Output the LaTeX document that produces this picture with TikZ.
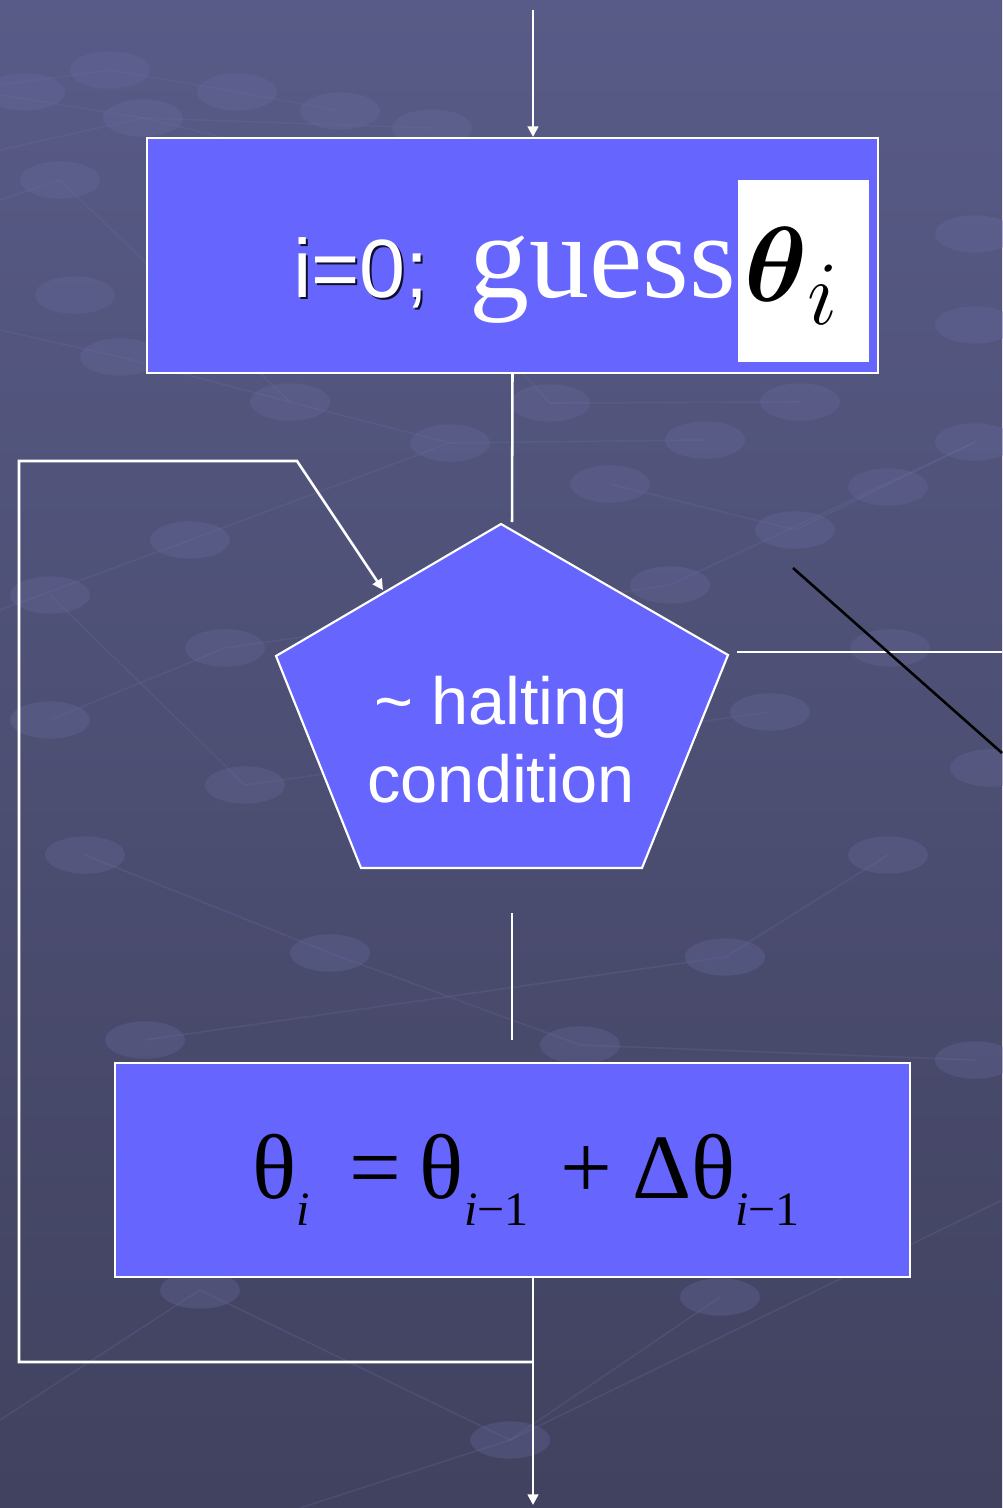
\RequirePackage{fix-cm}
\documentclass[tikz,border=0pt]{standalone}
\usepackage{amsmath}
\usepackage{fontspec}
\setmainfont{Liberation Serif}
\newfontfamily\arialfont{Liberation Sans}
\usetikzlibrary{arrows.meta,calc}

\definecolor{slidetop}{HTML}{585B87}
\definecolor{slidebot}{HTML}{41425F}
\definecolor{boxblue}{HTML}{6666FF}
\definecolor{dotblue}{HTML}{6A6DA0}
\definecolor{shadowblue}{HTML}{0E0E30}

\newcommand{\lowsub}[1]{\raisebox{-0.3em}{\fontsize{36}{36}\selectfont #1}}

\begin{document}
\begin{tikzpicture}[x=0.75pt,y=-0.75pt,
  flow/.style={draw=white,line width=1.9pt},
  arr/.style={flow,-{Triangle[width=8pt,length=8pt]}},
  stepbox/.style={draw=white,line width=1.6pt,fill=boxblue,inner sep=0pt},
  bgdot/.style={fill=dotblue,opacity=0.3},
  bgline/.style={draw=dotblue,opacity=0.25,line width=1.2pt}]
  % background
  \shade[top color=slidetop,bottom color=slidebot] (0,0) rectangle (1002,1508);
  \useasboundingbox (0,0) rectangle (1002,1508);
  \draw[bgline] (0,85) -- (110,70) -- (237,92) -- (340,111);
  \draw[bgline] (0,150) -- (143,118) -- (432,128);
  \draw[bgline] (0,95) -- (143,118) -- (330,163) -- (550,403) -- (800,402);
  \draw[bgline] (0,200) -- (60,180) -- (290,402) -- (450,443) -- (705,440);
  \draw[bgline] (0,330) -- (120,357) -- (290,402);
  \draw[bgline] (610,484) -- (795,530) -- (975,442);
  \draw[bgline] (0,610) -- (190,540) -- (450,443);
  \draw[bgline] (50,720) -- (225,648) -- (670,585) -- (975,442);
  \draw[bgline] (50,595) -- (245,785) -- (770,712);
  \draw[bgline] (85,855) -- (330,953) -- (580,1045) -- (975,1060);
  \draw[bgline] (888,855) -- (725,957) -- (145,1040);
  \draw[bgline] (0,1420) -- (200,1290) -- (510,1440) -- (1002,1200);
  \draw[bgline] (720,1297) -- (510,1440) -- (300,1508);
  \foreach \px/\py in {110/70,237/92,340/111,432/128,25/92,143/118,60/180,
      330/163,120/357,75/295,290/402,550/403,450/443,705/440,800/402,
      975/234,975/325,975/442,888/487,610/484,795/530,670/585,190/540,
      50/595,50/720,225/648,245/785,85/855,330/953,725/957,888/855,
      770/712,145/1040,580/1045,200/1290,720/1297,510/1440,975/1060,
      990/768,890/648}
    \fill[bgdot] (\px,\py) ellipse (30pt and 14pt);

  % coordinates
  \coordinate (in) at (533,10);
  \coordinate (p1) at (501,524);
  \coordinate (p2) at (728,655);
  \coordinate (p3) at (642,868);
  \coordinate (p4) at (361,868);
  \coordinate (p5) at (276,656);
  \coordinate (halt-in) at (512,522);
  \coordinate (halt-out) at (737,652);
  \coordinate (exit) at (1002,652);
  \coordinate (cross-a) at (793,568);
  \coordinate (cross-b) at (1002,753);
  \coordinate (yes-a) at (512,913);
  \coordinate (yes-b) at (512,1040);
  \coordinate (back) at (533,1362);
  \coordinate (halt-entry) at (383,590);
  \coordinate (out) at (533,1505);

  % boxes
  \node[stepbox,minimum width=548.25pt,minimum height=176.25pt] (init) at (512.5,255.5) {};
  \node[anchor=base west,inner sep=0pt,text=shadowblue,font=\arialfont\fontsize{62}{62}\selectfont] (initshadow) at (295,300) {i=0;};
  \node[anchor=base west,inner sep=0pt,text=white,font=\arialfont\fontsize{62}{62}\selectfont] (initi) at (293,298) {i=0;};
  \node[anchor=base west,text=white,inner sep=0pt,font=\fontsize{90}{90}\selectfont] (guess) at (469,298) {guess};
  \node[fill=white,minimum width=98.25pt,minimum height=136.5pt,inner sep=0pt] (thetabox) at (803.5,271) {};
  \node[anchor=base west,inner sep=0pt,font=\fontsize{80}{80}\selectfont] (thetaguess) at (744,302)
    {$\boldsymbol{\theta}_{\mbox{\fontsize{68}{68}\selectfont$i$}}$};

  \draw[stepbox] (p1) -- (p2) -- (p3) -- (p4) -- (p5) -- cycle;
  \node[align=center,text=white,font=\arialfont\fontsize{50}{58.5}\selectfont] (halt) at (501,740) {\textasciitilde{} halting\\condition};

  \node[stepbox,minimum width=596.25pt,minimum height=160.5pt] (update) at (512.5,1170) {};
  \node[anchor=base,inner sep=0pt,font=\fontsize{69}{69}\selectfont] (rule) at (526,1198)
    {θ\lowsub{\itshape i}\hspace{30pt}=\hspace{14pt}θ\lowsub{{\itshape i}−1}\hspace{24pt}+\hspace{15pt}Δθ\lowsub{{\itshape i}−1}};

  % connectors
  \draw[arr] (in) -- (in |- init.north);
  \draw[flow] (init.south) -- (halt-in);
  \draw[flow] (halt-out) -- (exit);
  \draw[black,line width=1.9pt] (cross-a) -- (cross-b);
  \draw[flow] (yes-a) -- (yes-b);
  \draw[arr] (update.south -| out) -- (out);
  \draw[arr] (back) -- ++(-514,0) |- (297,461) -- (halt-entry);
\end{tikzpicture}
\end{document}
